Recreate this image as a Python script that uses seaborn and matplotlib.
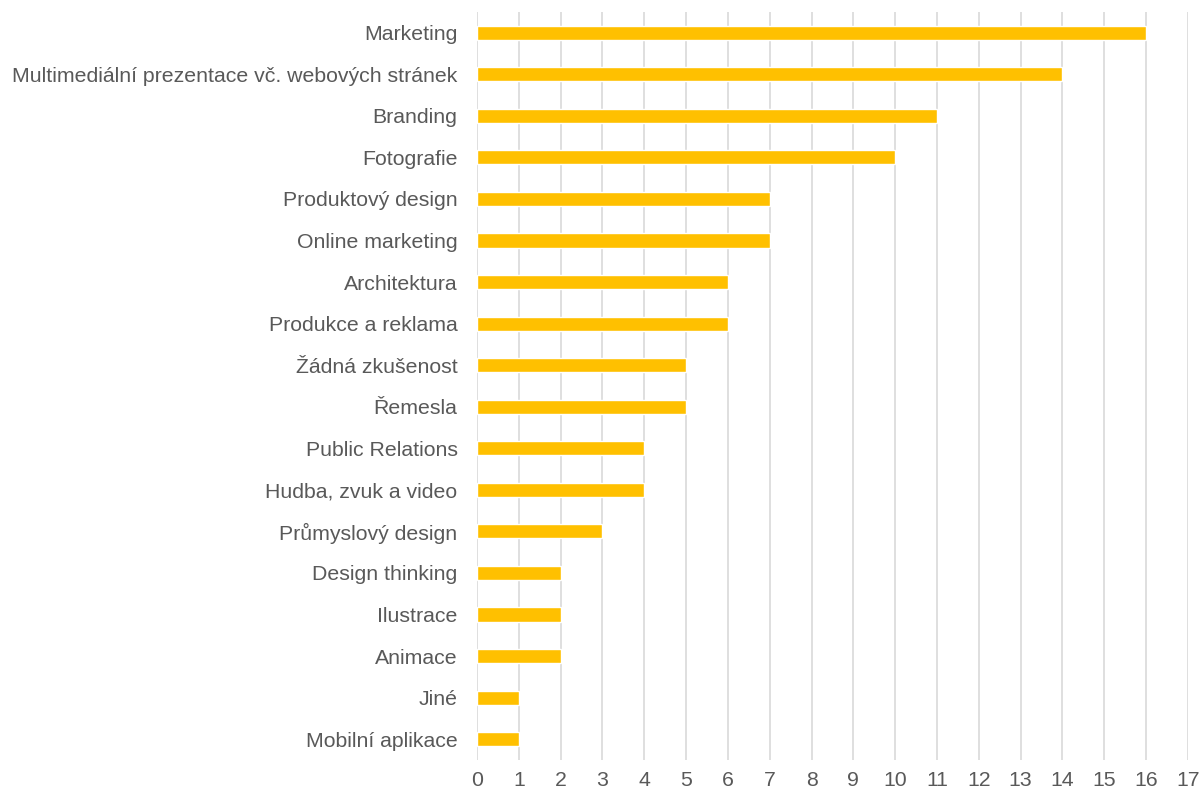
import matplotlib
matplotlib.use("Agg")
import matplotlib.pyplot as plt
import seaborn as sns
import pandas as pd

categories = [
    "Marketing",
    "Multimediální prezentace vč. webových stránek",
    "Branding",
    "Fotografie",
    "Produktový design",
    "Online marketing",
    "Architektura",
    "Produkce a reklama",
    "Žádná zkušenost",
    "Řemesla",
    "Public Relations",
    "Hudba, zvuk a video",
    "Průmyslový design",
    "Design thinking",
    "Ilustrace",
    "Animace",
    "Jiné",
    "Mobilní aplikace",
]
values = [16, 14, 11, 10, 7, 7, 6, 6, 5, 5, 4, 4, 3, 2, 2, 2, 1, 1]
x_ticks = list(range(0, 18))

sns.set_theme(style="white")
plt.rcParams['font.family'] = ['Liberation Sans', 'DejaVu Sans']

df = pd.DataFrame({"cat": categories, "val": values})

fig = plt.figure(figsize=(12.03, 7.92), dpi=100)
ax = fig.add_axes([0.3965, 0.0404, 0.591, 0.9446])
ax.set_axisbelow(True)

sns.barplot(data=df, y="cat", x="val", orient="h", color="#FFC000",
            width=0.34, saturation=1, ax=ax, zorder=3)

ax.set_xlim(0, 17)
ax.set_ylim(len(categories) - 0.5, -0.5)
ax.set_xticks(x_ticks)
ax.set_xticklabels([str(t) for t in x_ticks])
ax.grid(axis="x", color="#d9d9d9", linewidth=1.2, zorder=0)
ax.grid(axis="y", visible=False)
for s in ax.spines.values():
    s.set_visible(False)
ax.set_xlabel("")
ax.set_ylabel("")
ax.tick_params(axis="both", length=0, labelsize=15.3, labelcolor="#595959")
ax.tick_params(axis="x", pad=8)
ax.tick_params(axis="y", pad=14)

fig.savefig("out.png", dpi=100)
